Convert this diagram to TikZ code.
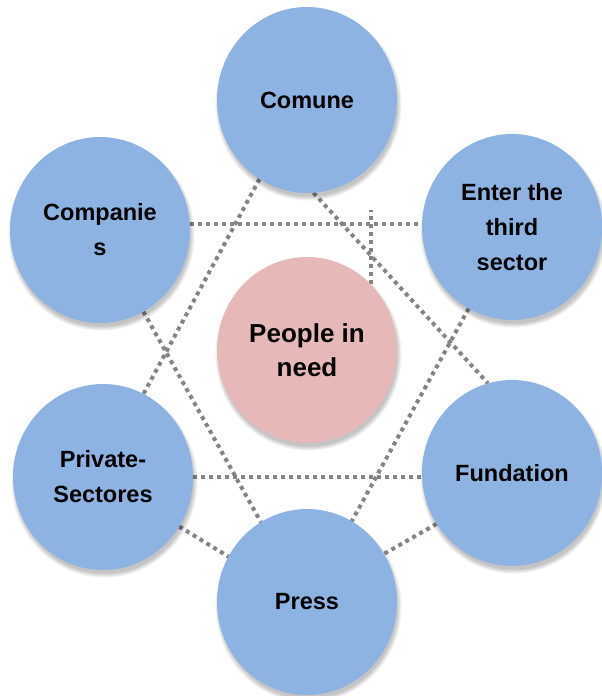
\documentclass[tikz,border=0pt]{standalone}
\usepackage{fontspec}
\setmainfont{Liberation Sans}
\usetikzlibrary{shapes.geometric}

\definecolor{bubble}{RGB}{141,179,226}
\definecolor{core}{RGB}{230,185,184}
\definecolor{dotgray}{RGB}{132,132,132}

\pgfdeclarelayer{bg}
\pgfsetlayers{bg,main}

\tikzset{
  bubblenode/.style={ellipse, fill=bubble, minimum width=180pt, minimum height=186pt,
    inner sep=0pt, outer sep=0pt, align=center,
    font=\fontsize{23.5pt}{35pt}\selectfont\bfseries},
  corenode/.style={bubblenode, fill=core,
    font=\fontsize{26pt}{34pt}\selectfont\bfseries},
  dotline/.style={draw=dotgray, line width=4pt, dash pattern=on 4pt off 4pt}
}

\begin{document}
\begin{tikzpicture}[x=1pt, y=-1pt]
  \useasboundingbox (0,0) rectangle (602,696);

  % outer partners and the centre
  \node[bubblenode] (comune)    at (307,100) {Comune};
  \node[bubblenode] (companies) at (100,230) {Companie\\s};
  \node[bubblenode] (third)     at (512,227) {Enter the\\third\\sector};
  \node[corenode]   (people)    at (307,350) {People in\\need};
  \node[bubblenode] (private)   at (103,477) {Private-\\Sectores};
  \node[bubblenode] (fundation) at (512,473) {Fundation};
  \node[bubblenode] (press)     at (307,602) {Press};

  \coordinate (stubtop) at (370,210);

  \begin{pgfonlayer}{bg}
    % dotted links
    \draw[dotline] (companies.4) -- (companies.4 -| third.west);
    \draw[dotline] (private.east) -- (private.east -| fundation.west);
    \draw[dotline] (comune.239) -- (private.64);
    \draw[dotline] (comune.274) -- (fundation.105);
    \draw[dotline] (companies.298) -- (press.120);
    \draw[dotline] (third.242) -- (press.61);
    \draw[dotline] (private.327) -- (press.150);
    \draw[dotline] (fundation.214) -- (press.32);
    \draw[dotline] (people.46) -- (people.46 |- stubtop);

    % soft shadows below the bubbles
    \foreach \n in {comune,companies,third,people,private,fundation,press}{
      \foreach \k in {0,...,4}{
        \fill[black, opacity=0.05] ([shift={(1.5,4.5)}]\n.center)
          ellipse [x radius=89+\k, y radius=92+\k];
      }
    }
  \end{pgfonlayer}
\end{tikzpicture}
\end{document}
